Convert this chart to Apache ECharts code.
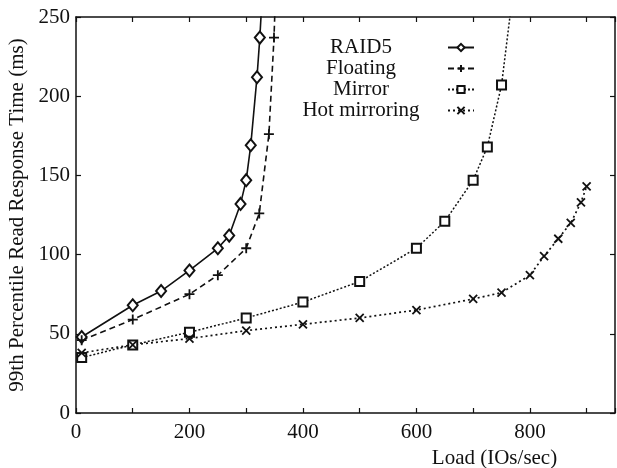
<!DOCTYPE html>
<html>
<head>
<meta charset="utf-8">
<script src="https://cdn.jsdelivr.net/npm/echarts@6/dist/echarts.min.js"></script>
<style>
  html, body { margin: 0; padding: 0; background: #fff; }
  #chart { width: 617px; height: 468px; }
</style>
</head>
<body>
<div id="chart"></div>
<script>
// Load (IOs/sec) vs. 99th percentile read response time (ms)
const raid5 = [[10, 48], [100, 68], [150, 77], [200, 90], [250, 104], [270, 112], [290, 132], [300, 147], [308, 169], [319, 212], [324, 237], [330, 275]];
const floating = [[10, 46], [100, 59], [200, 75], [250, 87], [300, 104], [323, 126], [340, 176], [349, 237], [353, 280]];
const mirror = [[10, 35], [100, 43], [200, 51], [300, 60], [400, 70], [500, 83], [600, 104], [650, 121], [700, 147], [725, 168], [750, 207], [775, 280]];
const hotMirroring = [[10, 38], [100, 43], [200, 47], [300, 52], [400, 56], [500, 60], [600, 65], [700, 72], [750, 76], [800, 87], [825, 99], [850, 110], [872, 120], [890, 133], [900, 143]];

const seriesNames = ['RAID5', 'Floating', 'Mirror', 'Hot mirroring'];
const xLabeled = [0, 200, 400, 600, 800];

const FONT = '"Liberation Serif", "DejaVu Serif", serif';
const INK = '#111';

const plusPath = 'path://M5,0L5,10M0,5L10,5';
const crossPath = 'path://M0,0L10,10M10,0L0,10';

const chart = echarts.init(document.getElementById('chart'), null, { renderer: 'canvas' });

const baseAxisLine = { show: true, onZero: false, lineStyle: { color: INK, width: 1.5 } };
const baseTick = { show: true, inside: true, length: 5, lineStyle: { color: INK, width: 1.2 } };

function mkSeries(name, data, symbol, size, lineType, lineWidth) {
  return {
    name: name,
    type: 'line',
    data: data,
    xAxisIndex: 0,
    yAxisIndex: 0,
    symbol: symbol,
    symbolSize: size,
    clip: true,
    smooth: false,
    lineStyle: { color: INK, width: lineWidth, type: lineType },
    itemStyle: { color: INK, borderColor: INK, borderWidth: 1.8 },
    emphasis: { disabled: true },
    z: 3
  };
}

chart.setOption({
  animation: false,
  backgroundColor: '#fff',
  textStyle: { fontFamily: FONT, color: INK },
  grid: { left: 76, right: 2, top: 17, bottom: 55, containLabel: false, outerBoundsMode: 'none' },
  legend: {
    data: seriesNames,
    orient: 'vertical',
    align: 'right',
    left: 274,
    top: 32,
    itemGap: 0,
    itemWidth: 26,
    itemHeight: 9,
    selectedMode: false,
    formatter: '{t|{name}}',
    textStyle: {
      fontFamily: FONT,
      color: INK,
      rich: { t: { width: 164, align: 'center', fontSize: 21, fontFamily: FONT, color: INK, lineHeight: 19.5 } }
    }
  },
  xAxis: [
    {
      type: 'value',
      min: 0,
      max: 950,
      interval: 100,
      name: 'Load (IOs/sec)',
      nameLocation: 'middle',
      nameGap: 27,
      nameTextStyle: { fontFamily: FONT, fontSize: 21, color: INK, padding: [0, 0, 0, 298] },
      axisLine: baseAxisLine,
      axisTick: baseTick,
      splitLine: { show: false },
      axisLabel: {
        margin: 9,
        fontFamily: FONT,
        fontSize: 21,
        color: INK,
        formatter: function (v) { return xLabeled.indexOf(v) >= 0 ? String(v) : ''; }
      }
    },
    {
      type: 'value',
      position: 'top',
      min: 0,
      max: 950,
      interval: 100,
      axisLine: baseAxisLine,
      axisTick: baseTick,
      axisLabel: { show: false },
      splitLine: { show: false }
    }
  ],
  yAxis: [
    {
      type: 'value',
      min: 0,
      max: 250,
      interval: 50,
      name: '99th Percentile Read Response Time (ms)',
      nameLocation: 'middle',
      nameGap: 44,
      nameRotate: 90,
      nameTextStyle: { fontFamily: FONT, fontSize: 21, color: INK },
      axisLine: baseAxisLine,
      axisTick: baseTick,
      splitLine: { show: false },
      axisLabel: { margin: 6, fontFamily: FONT, fontSize: 21, color: INK }
    },
    {
      type: 'value',
      position: 'right',
      min: 0,
      max: 250,
      interval: 50,
      axisLine: baseAxisLine,
      axisTick: baseTick,
      axisLabel: { show: false },
      splitLine: { show: false }
    }
  ],
  series: [
    mkSeries('RAID5', raid5, 'emptyDiamond', [10, 12], 'solid', 1.6),
    mkSeries('Floating', floating, plusPath, 10, [6, 4], 1.6),
    mkSeries('Mirror', mirror, 'emptyRect', 9, [2, 2], 1.5),
    mkSeries('Hot mirroring', hotMirroring, crossPath, 8, [2, 3], 1.7)
  ]
});
</script>
</body>
</html>
